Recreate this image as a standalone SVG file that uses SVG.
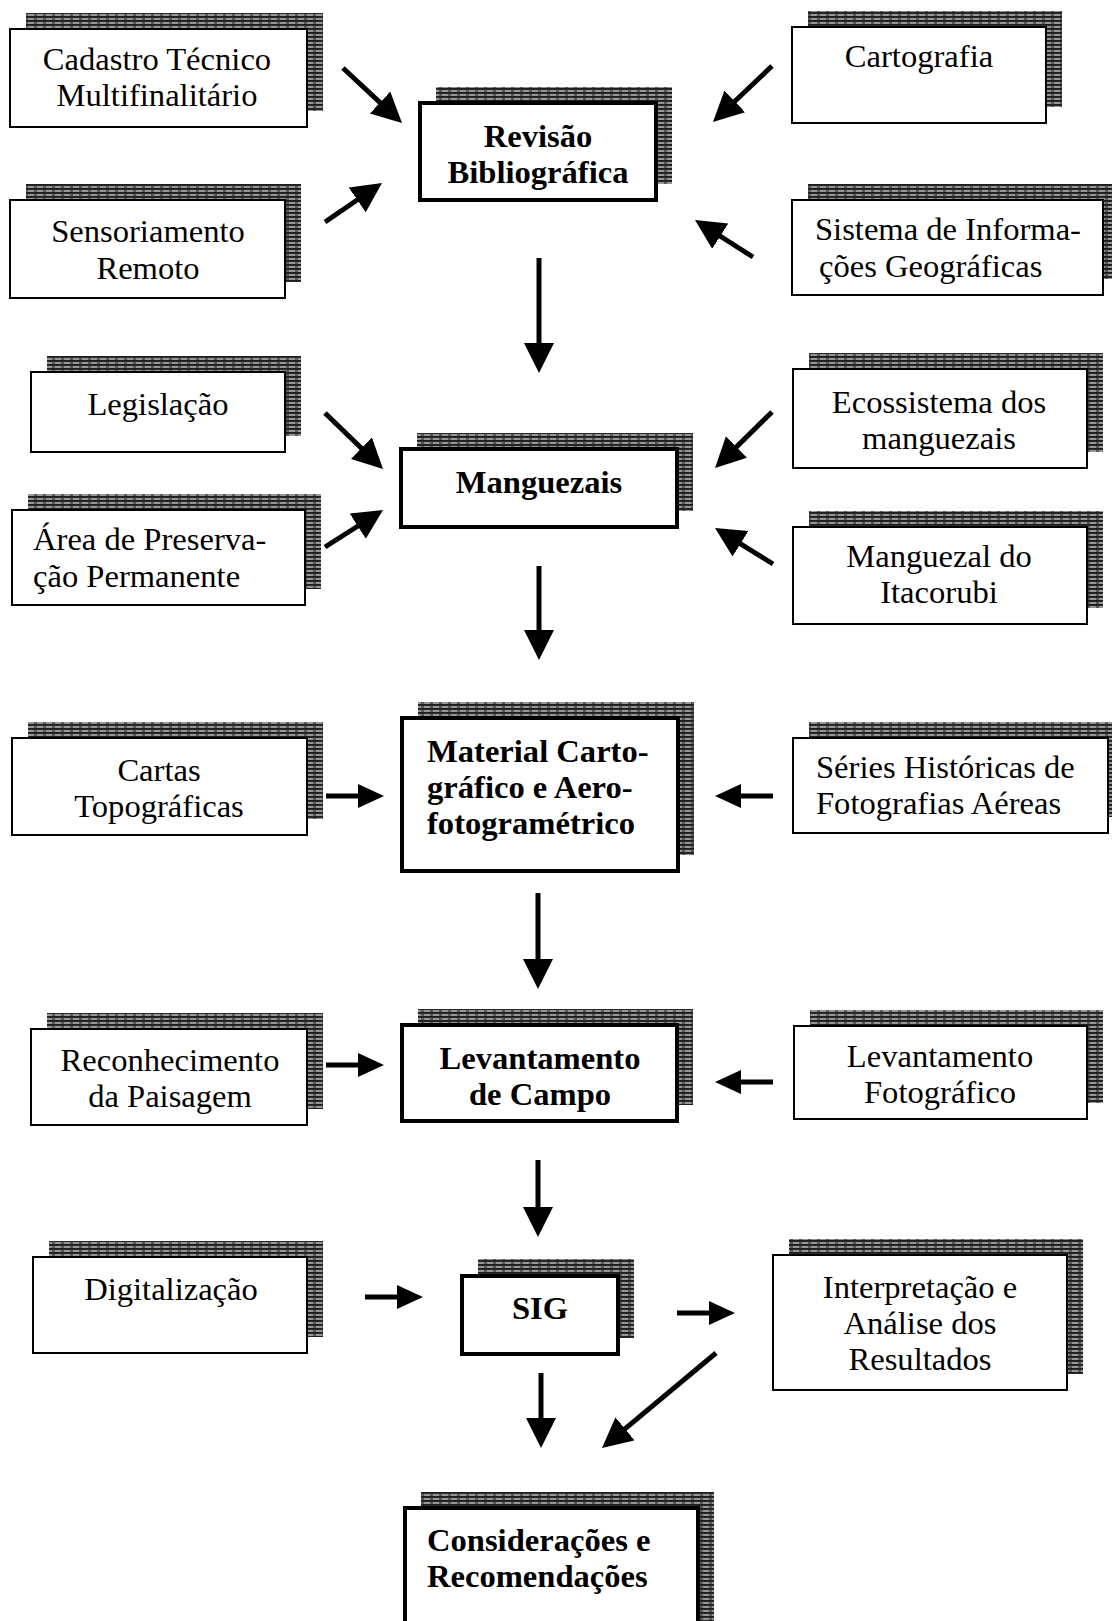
<svg xmlns="http://www.w3.org/2000/svg" width="1112" height="1621" viewBox="0 0 1112 1621">
<style>
text{font-family:"Liberation Serif","Times New Roman",serif;font-size:32.6px;fill:#000}
.b{font-weight:bold}
.m{text-anchor:middle}
.box{fill:#fff;stroke:#000;stroke-width:2}
.bold{fill:#fff;stroke:#000;stroke-width:4}
.sh{fill:url(#hatch)}
.arr{stroke:#000;stroke-width:5;fill:none}
</style>
<defs>
<pattern id="hatch" width="9" height="4" patternUnits="userSpaceOnUse">
<rect width="9" height="4" fill="#5a5a5a"/>
<rect width="9" height="1.8" fill="#1e1e1e"/>
<rect x="1" y="2.6" width="6" height="0.8" fill="#f0f0f0"/>
</pattern>
<marker id="ah" markerUnits="userSpaceOnUse" markerWidth="32" markerHeight="32" refX="18" refY="15" orient="auto">
<path d="M0,0 L30,15 L0,30 Z" fill="#000"/>
</marker>
<marker id="ahs" markerUnits="userSpaceOnUse" markerWidth="28" markerHeight="28" refX="14" refY="12" orient="auto">
<path d="M0,0 L26,12 L0,24 Z" fill="#000"/>
</marker>
</defs>

<g id="cadastro"><rect class="sh" x="26" y="13" width="297" height="98"/><rect class="box" x="10" y="29" width="297" height="98"/>
<text class="m" x="157" y="70">Cadastro Técnico</text><text class="m" x="157" y="106">Multifinalitário</text></g>

<g id="revisao"><rect class="sh" x="436" y="87" width="236" height="97"/><rect class="bold" x="420" y="103" width="236" height="97"/>
<text class="m b" x="538" y="147">Revisão</text><text class="m b" x="538" y="183">Bibliográfica</text></g>

<g id="cartografia"><rect class="sh" x="808" y="11" width="254" height="96"/><rect class="box" x="792" y="27" width="254" height="96"/>
<text class="m" x="919" y="67">Cartografia</text></g>

<g id="sensoriamento"><rect class="sh" x="26" y="184" width="275" height="98"/><rect class="box" x="10" y="200" width="275" height="98"/>
<text class="m" x="148" y="242">Sensoriamento</text><text class="m" x="148" y="279">Remoto</text></g>

<g id="sistema"><rect class="sh" x="808" y="184" width="311" height="95"/><rect class="box" x="792" y="200" width="311" height="95"/>
<text x="815" y="240">Sistema de Informa-</text><text x="819" y="277">ções Geográficas</text></g>

<g id="legislacao"><rect class="sh" x="47" y="356" width="254" height="80"/><rect class="box" x="31" y="372" width="254" height="80"/>
<text class="m" x="158" y="415">Legislação</text></g>

<g id="ecossistema"><rect class="sh" x="809" y="353" width="294" height="99"/><rect class="box" x="793" y="369" width="294" height="99"/>
<text class="m" x="939" y="413">Ecossistema dos</text><text class="m" x="939" y="449">manguezais</text></g>

<g id="manguezais"><rect class="sh" x="417" y="433" width="276" height="78"/><rect class="bold" x="401" y="449" width="276" height="78"/>
<text class="m b" x="539" y="493">Manguezais</text></g>

<g id="area"><rect class="sh" x="28" y="494" width="293" height="95"/><rect class="box" x="12" y="510" width="293" height="95"/>
<text x="33" y="550">Área de Preserva-</text><text x="33" y="587">ção Permanente</text></g>

<g id="itacorubi"><rect class="sh" x="809" y="511" width="294" height="97"/><rect class="box" x="793" y="527" width="294" height="97"/>
<text class="m" x="939" y="567">Manguezal do</text><text class="m" x="939" y="603">Itacorubi</text></g>

<g id="cartas"><rect class="sh" x="28" y="722" width="295" height="97"/><rect class="box" x="12" y="738" width="295" height="97"/>
<text class="m" x="159" y="781">Cartas</text><text class="m" x="159" y="817">Topográficas</text></g>

<g id="material"><rect class="sh" x="418" y="702" width="276" height="153"/><rect class="bold" x="402" y="718" width="276" height="153"/>
<text class="b" x="427" y="762">Material Carto-</text><text class="b" x="427" y="798">gráfico e Aero-</text><text class="b" x="427" y="834">fotogramétrico</text></g>

<g id="series"><rect class="sh" x="809" y="722" width="315" height="95"/><rect class="box" x="793" y="738" width="315" height="95"/>
<text x="816" y="778">Séries Históricas de</text><text x="816" y="814">Fotografias Aéreas</text></g>

<g id="reconhecimento"><rect class="sh" x="47" y="1013" width="276" height="96"/><rect class="box" x="31" y="1029" width="276" height="96"/>
<text class="m" x="170" y="1071">Reconhecimento</text><text class="m" x="170" y="1107">da Paisagem</text></g>

<g id="levcampo"><rect class="sh" x="418" y="1009" width="275" height="96"/><rect class="bold" x="402" y="1025" width="275" height="96"/>
<text class="m b" x="540" y="1069">Levantamento</text><text class="m b" x="540" y="1105">de Campo</text></g>

<g id="levfoto"><rect class="sh" x="810" y="1010" width="293" height="93"/><rect class="box" x="794" y="1026" width="293" height="93"/>
<text class="m" x="940" y="1067">Levantamento</text><text class="m" x="940" y="1103">Fotográfico</text></g>

<g id="digitalizacao"><rect class="sh" x="49" y="1241" width="274" height="96"/><rect class="box" x="33" y="1257" width="274" height="96"/>
<text class="m" x="171" y="1300">Digitalização</text></g>

<g id="sig"><rect class="sh" x="478" y="1259" width="156" height="79"/><rect class="bold" x="462" y="1276" width="156" height="78"/>
<text class="m b" x="540" y="1319">SIG</text></g>

<g id="interpretacao"><rect class="sh" x="789" y="1239" width="294" height="135"/><rect class="box" x="773" y="1255" width="294" height="135"/>
<text class="m" x="920" y="1298">Interpretação e</text><text class="m" x="920" y="1334">Análise dos</text><text class="m" x="920" y="1370">Resultados</text></g>

<g id="consideracoes"><rect class="sh" x="421" y="1492" width="293" height="140"/><rect class="bold" x="405" y="1508" width="293" height="140"/>
<text class="b" x="427" y="1551">Considerações e</text><text class="b" x="427" y="1587">Recomendações</text></g>

<g id="connectors">
<line class="arr" x1="343" y1="68" x2="393.2" y2="114.8" marker-end="url(#ah)"/>
<line class="arr" x1="325" y1="222" x2="372.1" y2="189.8" marker-end="url(#ah)"/>
<line class="arr" x1="772" y1="66" x2="721.7" y2="113.7" marker-end="url(#ah)"/>
<line class="arr" x1="753" y1="257" x2="705.1" y2="226.5" marker-end="url(#ah)"/>
<line class="arr" x1="539" y1="258" x2="539" y2="361" marker-end="url(#ah)"/>
<line class="arr" x1="325" y1="413" x2="374.4" y2="460.7" marker-end="url(#ah)"/>
<line class="arr" x1="325" y1="547" x2="372.9" y2="516.5" marker-end="url(#ah)"/>
<line class="arr" x1="772" y1="412" x2="723.6" y2="459.6" marker-end="url(#ah)"/>
<line class="arr" x1="773" y1="564" x2="725.2" y2="534.3" marker-end="url(#ah)"/>
<line class="arr" x1="539" y1="566" x2="539" y2="648" marker-end="url(#ah)"/>
<line class="arr" x1="326" y1="796" x2="372" y2="796" marker-end="url(#ahs)"/>
<line class="arr" x1="773" y1="796" x2="727" y2="796" marker-end="url(#ahs)"/>
<line class="arr" x1="538" y1="893" x2="538" y2="977" marker-end="url(#ah)"/>
<line class="arr" x1="326" y1="1065" x2="372" y2="1065" marker-end="url(#ahs)"/>
<line class="arr" x1="773" y1="1082" x2="727" y2="1082" marker-end="url(#ahs)"/>
<line class="arr" x1="538" y1="1160" x2="538" y2="1225" marker-end="url(#ah)"/>
<line class="arr" x1="365" y1="1297" x2="411" y2="1297" marker-end="url(#ahs)"/>
<line class="arr" x1="677" y1="1313" x2="723" y2="1313" marker-end="url(#ahs)"/>
<line class="arr" x1="541" y1="1373" x2="541" y2="1436" marker-end="url(#ah)"/>
<line class="arr" x1="716" y1="1353" x2="611.2" y2="1440.3" marker-end="url(#ah)"/>
</g>
</svg>
